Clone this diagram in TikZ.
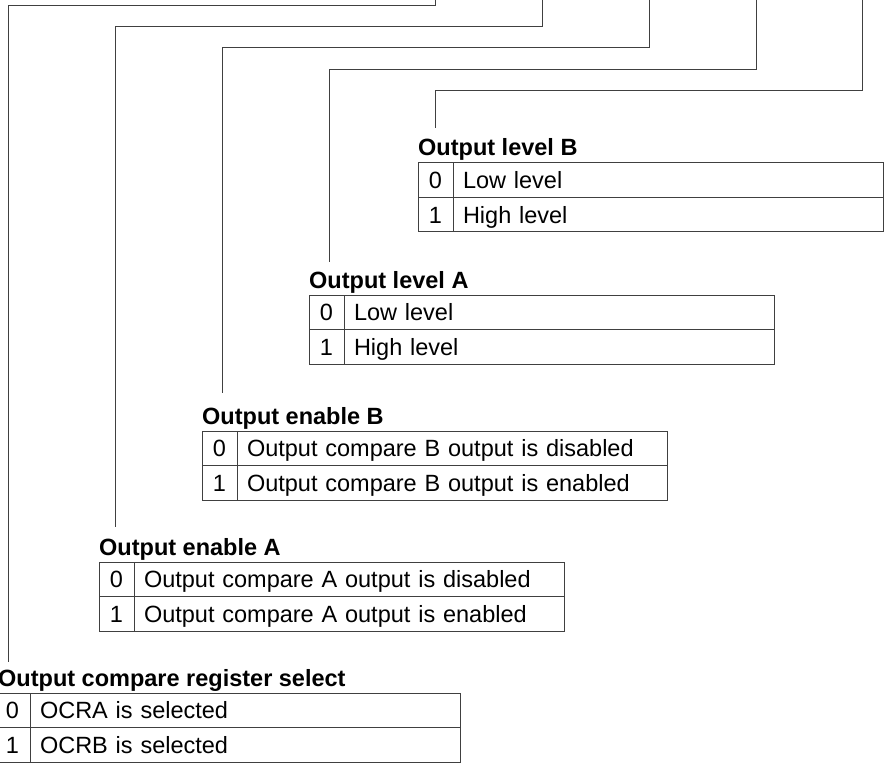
\documentclass[tikz,border=0pt]{standalone}
\usepackage{fontspec}
\setmainfont{Liberation Sans}
\tikzset{
  conn/.style={draw=black!75, line width=1pt},
  cellbase/.style={draw=black!75, line width=1pt, anchor=north west, outer sep=0pt,
    minimum height=34.5pt, text height=17pt, text depth=0pt,
    font=\fontsize{23.5}{28}\selectfont},
  dcell/.style={cellbase, minimum width=35pt, inner sep=0pt},
  tcell/.style={cellbase, minimum width=430pt, inner xsep=10pt, inner ysep=0pt,
    text width=410pt, align=left},
  lbl/.style={anchor=base west, inner sep=0pt, font=\fontsize{23.5}{28}\selectfont\bfseries}
}
\newcommand{\bittable}[7][]{%
  \node[lbl,#1] (#2l) at (#3,#4-7) {#5};
  \node[dcell] (#2d0) at (#3,#4) {0};
  \node[tcell] (#2t0) at (#2d0.north east) {#6};
  \node[dcell] (#2d1) at (#2d0.south west) {1};
  \node[tcell] (#2t1) at (#2d1.north east) {#7};
}
\begin{document}
\begin{tikzpicture}[x=1pt,y=-1pt]
\useasboundingbox (0,0) rectangle (891,767);

\bittable{b}{418}{163}{Output level B}{Low level}{High level}
\bittable{a}{309}{295}{Output level A}{Low level}{High level}
\bittable{eb}{202}{431}{Output enable B}{Output compare B output is disabled}{Output compare B output is enabled}
\bittable{ea}{99}{562}{Output enable A}{Output compare A output is disabled}{Output compare A output is enabled}
\bittable[xshift=3pt]{r}{-5}{693}{Output compare register select}{OCRA is selected}{OCRB is selected}

% connector coordinates
\coordinate (t1) at (435,0);   \coordinate (k1) at (435,6);   \coordinate (e1) at (8,662);
\coordinate (t2) at (542,0);   \coordinate (k2) at (542,27);  \coordinate (e2) at (115,527);
\coordinate (t3) at (649,0);   \coordinate (k3) at (649,48);  \coordinate (e3) at (222,393);
\coordinate (t4) at (756,0);   \coordinate (k4) at (756,70);  \coordinate (e4) at (329,262);
\coordinate (t5) at (862,0);   \coordinate (k5) at (862,91);  \coordinate (e5) at (435,128);

\draw[conn] (t1) -- (k1) -| (e1);
\draw[conn] (t2) -- (k2) -| (e2);
\draw[conn] (t3) -- (k3) -| (e3);
\draw[conn] (t4) -- (k4) -| (e4);
\draw[conn] (t5) -- (k5) -| (e5);
\end{tikzpicture}
\end{document}
